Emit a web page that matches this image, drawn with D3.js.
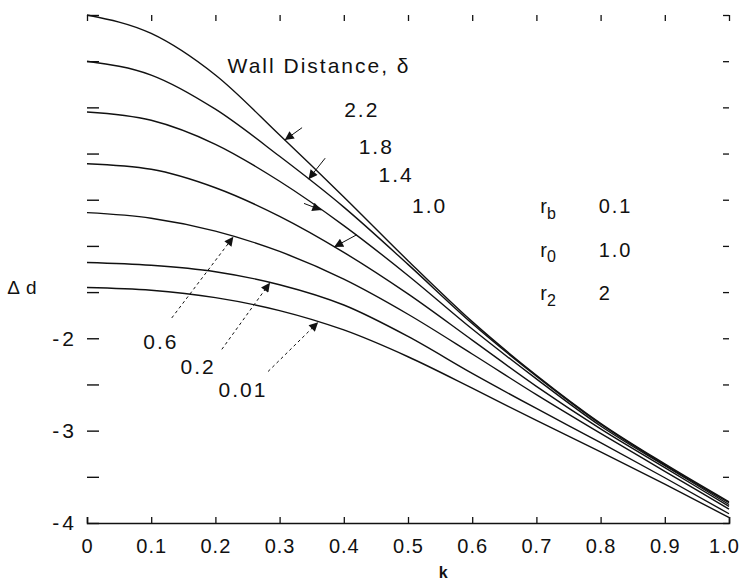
<!DOCTYPE html>
<html>
<head>
<meta charset="utf-8">
<script src="https://cdnjs.cloudflare.com/ajax/libs/d3/7.8.5/d3.min.js"></script>
<style>
    body { margin: 0; background: #fff; }
    svg text { font-family: "Liberation Sans", Arial, sans-serif; fill: #111; }
</style>
</head>
<body>
<div id="chart"></div>
<script>
// k values shared by every curve
var kValues = [0, 0.1, 0.2, 0.3, 0.4, 0.5, 0.6, 0.7, 0.8, 0.9, 1.0];

// Wall distance of each curve (top to bottom)
var wallDistances = ["2.2", "1.8", "1.4", "1.0", "0.6", "0.2", "0.01"];

// Delta d, one array per wall distance
var dd22 = [1.50, 1.30, 0.85, 0.20, -0.47, -1.16, -1.82, -2.40, -2.92, -3.36, -3.77];
var dd18 = [1.00, 0.85, 0.48, -0.03, -0.58, -1.20, -1.84, -2.41, -2.93, -3.37, -3.78];
var dd14 = [0.45, 0.36, 0.10, -0.30, -0.78, -1.32, -1.90, -2.44, -2.95, -3.38, -3.80];
var dd10 = [-0.11, -0.17, -0.37, -0.68, -1.07, -1.52, -2.02, -2.52, -2.98, -3.40, -3.82];
var dd06 = [-0.64, -0.70, -0.84, -1.06, -1.36, -1.74, -2.17, -2.61, -3.03, -3.44, -3.85];
var dd02 = [-1.18, -1.21, -1.28, -1.42, -1.64, -1.98, -2.38, -2.76, -3.13, -3.51, -3.90];
var dd001 = [-1.45, -1.48, -1.56, -1.70, -1.91, -2.20, -2.54, -2.89, -3.23, -3.58, -3.94];
var curveValues = [dd22, dd18, dd14, dd10, dd06, dd02, dd001];

// Axis ticks and labels
var xTickValues = [0, 0.1, 0.2, 0.3, 0.4, 0.5, 0.6, 0.7, 0.8, 0.9, 1.0];
var xTickLabels = ["0", "0.1", "0.2", "0.3", "0.4", "0.5", "0.6", "0.7", "0.8", "0.9", "1.0"];
var yTickValues = [-4, -3.5, -3, -2.5, -2, -1.5, -1, -0.5, 0, 0.5, 1, 1.5];
var yLabelValues = [-2, -3, -4];
var yTickLabels = ["-2", "-3", "-4"];

// Parameter legend
var paramNames = ["b", "0", "2"];
var paramValues = ["0.1", "1.0", "2"];

// Define SVG area dimensions
var svgWidth = 743;
var svgHeight = 581;

var margin = {
    top: 15,
    right: 14,
    bottom: 58,
    left: 87
};

var chartWidth = svgWidth - margin.left - margin.right;
var chartHeight = svgHeight - margin.top - margin.bottom;

var svg = d3.select("#chart")
    .append("svg")
    .attr("width", svgWidth)
    .attr("height", svgHeight);

var chartGroup = svg.append("g")
    .attr("transform", `translate(${margin.left}, ${margin.top})`);

// Scales
var xScale = d3.scaleLinear().domain([0, 1]).range([0, chartWidth]);
var yScale = d3.scaleLinear().domain([-4, 1.5]).range([chartHeight, 0]);

// Arrow head marker
svg.append("defs").append("marker")
    .attr("id", "arrow")
    .attr("viewBox", "0 0 10 10")
    .attr("refX", 10)
    .attr("refY", 5)
    .attr("markerUnits", "userSpaceOnUse")
    .attr("markerWidth", 14)
    .attr("markerHeight", 9)
    .attr("orient", "auto")
    .append("path")
    .attr("d", "M0,0 L10,5 L0,10 z")
    .attr("fill", "#111");

// Bottom axis, ticks pointing up
var bottomAxis = d3.axisBottom(xScale)
    .tickValues(xTickValues)
    .tickSize(-6)
    .tickPadding(16)
    .tickFormat((d, i) => xTickLabels[i]);

var xAxis = chartGroup.append("g")
    .attr("transform", `translate(0, ${chartHeight})`)
    .call(bottomAxis);
xAxis.select(".domain").attr("stroke", "#111").attr("stroke-width", 1.6);
xAxis.selectAll(".tick line").attr("stroke", "#111").attr("stroke-width", 1.3);
xAxis.selectAll("text")
    .style("font-size", "20px")
    .style("letter-spacing", "1px")
    .attr("fill", "#111");
// last label sits at the page edge, nudge it in
xAxis.selectAll("text").filter(d => d === 1).attr("dx", -5);

// Left axis, ticks pointing right, only a few labels are legible
var leftAxis = d3.axisLeft(yScale)
    .tickValues(yTickValues)
    .tickSize(-12)
    .tickPadding(10)
    .tickFormat(d => {
        var i = yLabelValues.indexOf(d);
        return i >= 0 ? yTickLabels[i] : "";
    });

var yAxis = chartGroup.append("g").call(leftAxis);
yAxis.select(".domain").remove();
yAxis.selectAll(".tick line").attr("stroke", "#111").attr("stroke-width", 1.4);
yAxis.selectAll("text")
    .style("font-size", "21px")
    .style("letter-spacing", "3px")
    .attr("fill", "#111");

// Top and right tick marks
var topAxis = chartGroup.append("g")
    .call(d3.axisTop(xScale).tickValues(xTickValues).tickSize(-6).tickFormat(""));
topAxis.select(".domain").remove();
topAxis.selectAll(".tick line").attr("stroke", "#111").attr("stroke-width", 1.3);

var rightAxis = chartGroup.append("g")
    .attr("transform", `translate(${chartWidth}, 0)`)
    .call(d3.axisLeft(yScale).tickValues(yTickValues).tickSize(6).tickFormat(""));
rightAxis.select(".domain").remove();
rightAxis.selectAll(".tick line").attr("stroke", "#111").attr("stroke-width", 1.3);

// Curves
var line = d3.line()
    .x((d, i) => xScale(kValues[i]))
    .y(d => yScale(d))
    .curve(d3.curveMonotoneX);

chartGroup.selectAll(".curve")
    .data(curveValues)
    .enter().append("path")
    .attr("class", "curve")
    .attr("d", d => line(d))
    .attr("fill", "none")
    .attr("stroke", "#111")
    .attr("stroke-width", 1.4);

// Value of a curve at any k (linear between read points)
function curveAt(index, k) {
    return d3.scaleLinear().domain(kValues).range(curveValues[index])(k);
}

// Wall distance labels with their pointers: label spot, tail spot and tip k (data units)
var annotations = [
    { curve: 0, label: [0.428, 0.47], anchor: "middle", tail: [0.335, 0.28], tipK: 0.308, dash: null },
    { curve: 1, label: [0.478, 0.07], anchor: "end", tail: [0.371, -0.05], tipK: 0.345, dash: null },
    { curve: 2, label: [0.509, -0.23], anchor: "end", tail: [0.338, -0.54], tipK: 0.365, dash: null },
    { curve: 3, label: [0.561, -0.56], anchor: "end", tail: [0.420, -0.88], tipK: 0.385, dash: null },
    { curve: 4, label: [0.115, -2.04], anchor: "middle", tail: [0.132, -1.78], tipK: 0.228, dash: "3,3" },
    { curve: 5, label: [0.173, -2.31], anchor: "middle", tail: [0.210, -2.12], tipK: 0.285, dash: "3,3" },
    { curve: 6, label: [0.243, -2.56], anchor: "middle", tail: [0.282, -2.36], tipK: 0.360, dash: "3,3" }
];

var annoGroup = chartGroup.selectAll(".anno")
    .data(annotations)
    .enter().append("g")
    .attr("class", "anno");

annoGroup.append("line")
    .attr("x1", d => xScale(d.tail[0]))
    .attr("y1", d => yScale(d.tail[1]))
    .attr("x2", d => xScale(d.tipK))
    .attr("y2", d => yScale(curveAt(d.curve, d.tipK)))
    .attr("stroke", "#111")
    .attr("stroke-width", 1)
    .attr("stroke-dasharray", d => d.dash)
    .attr("marker-end", "url(#arrow)");

annoGroup.append("text")
    .attr("x", d => xScale(d.label[0]))
    .attr("y", d => yScale(d.label[1]))
    .attr("dy", "0.35em")
    .attr("text-anchor", d => d.anchor)
    .style("font-size", "21px")
    .style("letter-spacing", "2px")
    .text(d => wallDistances[d.curve]);

// Title of the labels
chartGroup.append("text")
    .attr("x", xScale(0.219))
    .attr("y", yScale(0.95))
    .attr("dy", "0.35em")
    .style("font-size", "21px")
    .style("letter-spacing", "2px")
    .text("Wall Distance, δ");

// Parameter legend on the right
var paramRows = chartGroup.selectAll(".param")
    .data(paramNames)
    .enter().append("g")
    .attr("class", "param")
    .attr("transform", (d, i) => `translate(0, ${yScale(-0.57 - i * 0.47)})`);

paramRows.append("text")
    .attr("x", xScale(0.706))
    .attr("dy", "0.35em")
    .style("font-size", "20px")
    .text("r")
    .append("tspan")
    .attr("dy", "0.35em")
    .style("font-size", "16px")
    .text(d => d);

paramRows.append("text")
    .attr("x", xScale(0.797))
    .attr("dy", "0.35em")
    .style("font-size", "20px")
    .style("letter-spacing", "2px")
    .text((d, i) => paramValues[i]);

// Axis titles
svg.append("text")
    .attr("x", 25)
    .attr("y", margin.top + yScale(-1.45))
    .attr("dy", "0.35em")
    .attr("text-anchor", "middle")
    .style("font-size", "19px")
    .style("letter-spacing", "6px")
    .text("Δd");

svg.append("text")
    .attr("x", margin.left + xScale(0.555))
    .attr("y", 578)
    .attr("text-anchor", "middle")
    .style("font-size", "16px")
    .style("font-weight", "bold")
    .text("k");
</script>
</body>
</html>
